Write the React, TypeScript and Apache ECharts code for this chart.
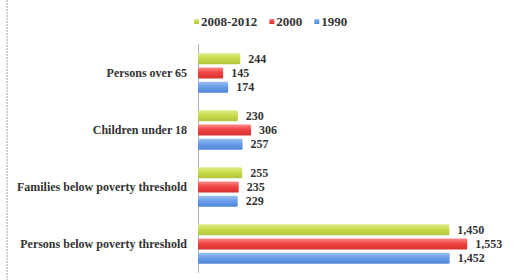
import React, { useEffect, useRef } from "react";
import * as echarts from "echarts";

const categories = [
  "Persons over 65",
  "Children under 18",
  "Families below poverty threshold",
  "Persons below poverty threshold",
];
const seriesNames = ["2008-2012", "2000", "1990"];
const values2008 = [244, 230, 255, 1450];
const values2000 = [145, 306, 235, 1553];
const values1990 = [174, 257, 229, 1452];

const grad = (top: string, mid: string, bot: string) =>
  new echarts.graphic.LinearGradient(0, 0, 0, 1, [
    { offset: 0, color: top },
    { offset: 0.45, color: mid },
    { offset: 1, color: bot },
  ]);

export default function App() {
  const ref = useRef<HTMLDivElement>(null);
  useEffect(() => {
    if (!ref.current) return;
    const chart = echarts.init(ref.current, null, { renderer: "svg" });
    const font = "'Liberation Serif', 'DejaVu Serif', serif";
    const labelStyle = {
      show: true,
      position: "right" as const,
      distance: 8,
      fontFamily: font,
      fontWeight: "bold" as const,
      fontSize: 12,
      color: "#333",
      formatter: (p: any) => Number(p.value).toLocaleString("en-US"),
    };
    const colors = [
      grad("#e2ec8c", "#c8db4c", "#b3c63c"),
      grad("#ff8a8a", "#f04444", "#d83030"),
      grad("#9cc0f4", "#6a9ee8", "#4f86d8"),
    ];
    const solid = ["#c8db4c", "#f04444", "#6a9ee8"];
    const data = [values2008, values2000, values1990];
    chart.setOption({
      animation: false,
      legend: {
        top: 10,
        left: 189,
        itemWidth: 5,
        itemHeight: 5,
        itemGap: 12,
        icon: "rect",
        textStyle: {
          fontFamily: font,
          fontWeight: "bold",
          fontSize: 13,
          color: "#333",
          padding: [0, 0, 0, -3],
        },
        data: seriesNames,
      },
      grid: { left: 198, right: 9, top: 44.5, bottom: 7.5 },
      xAxis: {
        type: "value",
        min: 0,
        max: 1800,
        show: false,
      },
      yAxis: {
        type: "category",
        inverse: true,
        data: categories,
        axisLine: { show: true, lineStyle: { color: "#b0b0b0", width: 1 } },
        axisTick: { show: false },
        axisLabel: {
          fontFamily: font,
          fontWeight: "bold",
          fontSize: 12,
          color: "#333",
          margin: 11,
        },
      },
      series: seriesNames.map((name, i) => ({
        name,
        type: "bar",
        data: data[i],
        barWidth: 11,
        barGap: "30%",
        itemStyle: { color: colors[i], borderRadius: 1 },
        label: labelStyle,
        color: solid[i],
      })),
      graphic: [
        {
          type: "line",
          shape: { x1: 7, y1: 0, x2: 7, y2: 280 },
          style: { stroke: "#c0c0c0", lineWidth: 1.5, lineDash: [2, 1] },
        },
      ],
    });
    return () => chart.dispose();
  }, []);
  return <div ref={ref} style={{ width: 519, height: 280, position: "absolute", left: 0, top: 0 }} />;
}
